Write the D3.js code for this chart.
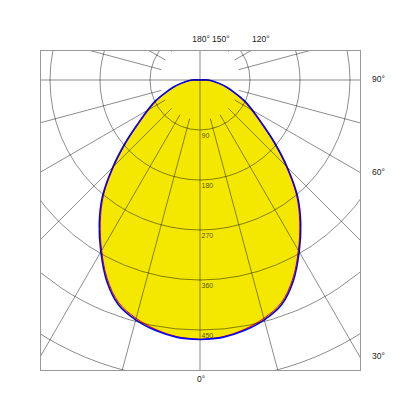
<!DOCTYPE html>
<html>
<head>
<meta charset="utf-8">
<script src="https://cdn.jsdelivr.net/npm/d3@7"></script>
<style>
  body { margin: 0; background: #fff; }
  text { font-family: "Liberation Sans", Arial, sans-serif; }
</style>
</head>
<body>
<svg id="chart" width="400" height="400"></svg>
<script>
// gamma angles (deg from nadir) and luminous intensity (cd) per C-plane
const gammaAngles = d3.range(0, 181, 5);
const planeC90 = [467, 465, 458, 447, 430, 398, 357, 316, 273, 222, 175, 136, 109, 88, 66, 50, 35, 24, 14,
  0, 0, 0, 0, 0, 0, 0, 0, 0, 0, 0, 0, 0, 0, 0, 0, 0, 0];
const planeC0 = [467, 464, 456, 444, 427, 395, 354, 313, 270, 219, 172, 133, 106, 85, 64, 48, 34, 23, 14,
  0, 0, 0, 0, 0, 0, 0, 0, 0, 0, 0, 0, 0, 0, 0, 0, 0, 0];

const ringValues = [90, 180, 270, 360, 450, 540];
const ringLabels = [90, 180, 270, 360, 450];
const spokeAngles = d3.range(0, 360, 15);
const angleLabels = [0, 30, 60, 90, 120, 150, 180];

const frame = {x0: 40, y0: 50, x1: 360, y1: 370};
const cx = 200, cy = 80;

const r = d3.scaleLinear().domain([0, 90]).range([0, 50]);

const svg = d3.select('#chart');

svg.append('defs').append('clipPath').attr('id', 'frameClip')
  .append('rect')
  .attr('x', frame.x0).attr('y', frame.y0)
  .attr('width', frame.x1 - frame.x0).attr('height', frame.y1 - frame.y0);

const main = svg.append('g').attr('transform', `translate(${cx},${cy})`);

// lobe: right half from gamma 0..180, left half back 180..0
const lobePoints = (values) => {
  const right = gammaAngles.map((g, i) => [Math.PI - g * Math.PI / 180, r(values[i])]);
  const left = gammaAngles.map((g, i) => [Math.PI + g * Math.PI / 180, r(values[i])]).reverse();
  return right.concat(left);
};
const radial = d3.lineRadial().curve(d3.curveCatmullRomClosed.alpha(0.5));

main.append('path')
  .attr('d', radial(lobePoints(planeC90)))
  .attr('fill', '#f4e700')
  .attr('stroke', 'none');

// grid
const grid = svg.append('g')
  .attr('clip-path', 'url(#frameClip)')
  .append('g')
  .attr('transform', `translate(${cx},${cy})`)
  .attr('stroke', '#000')
  .attr('stroke-opacity', 0.45)
  .attr('fill', 'none')
  .attr('stroke-width', 1);

grid.selectAll('circle')
  .data(ringValues).enter().append('circle')
  .attr('r', d => r(d));

grid.selectAll('line')
  .data(spokeAngles).enter().append('line')
  .attr('x1', d => (d % 90 === 0 ? 0 : 40) * Math.sin(d * Math.PI / 180))
  .attr('y1', d => (d % 90 === 0 ? 0 : 40) * Math.cos(d * Math.PI / 180))
  .attr('x2', d => 600 * Math.sin(d * Math.PI / 180))
  .attr('y2', d => 600 * Math.cos(d * Math.PI / 180));

// curves
main.append('path')
  .attr('d', radial(lobePoints(planeC0)))
  .attr('fill', 'none')
  .attr('stroke', '#ff0000')
  .attr('stroke-width', 1);

main.append('path')
  .attr('d', radial(lobePoints(planeC90)))
  .attr('fill', 'none')
  .attr('stroke', '#0000ff')
  .attr('stroke-width', 1.6);

// frame
svg.append('rect')
  .attr('x', frame.x0 + 0.5).attr('y', frame.y0 + 0.5)
  .attr('width', frame.x1 - frame.x0).attr('height', frame.y1 - frame.y0)
  .attr('fill', 'none')
  .attr('stroke', '#999');

// intensity labels along nadir line
main.selectAll('text.ring')
  .data(ringLabels).enter().append('text')
  .attr('class', 'ring')
  .attr('x', 1.5)
  .attr('y', d => r(d) + 7.5)
  .attr('font-size', '7px')
  .attr('fill', '#000')
  .attr('fill-opacity', 0.7)
  .text(d => d);

// angle labels where spokes leave the frame
angleLabels.forEach(a => {
  const s = Math.sin(a * Math.PI / 180), c = Math.cos(a * Math.PI / 180);
  const ts = [];
  if (s > 1e-6) ts.push({t: (frame.x1 - cx) / s, side: 'right'});
  if (c > 1e-6) ts.push({t: (frame.y1 - cy) / c, side: 'bottom'});
  if (c < -1e-6) ts.push({t: (frame.y0 - cy) / c, side: 'top'});
  const hit = ts.sort((p, q) => p.t - q.t)[0];
  const ex = cx + hit.t * s, ey = cy + hit.t * c;
  const label = svg.append('text')
    .attr('font-size', '8.5px')
    .attr('fill', '#222')
    .attr('dominant-baseline', 'middle')
    .text(a + '°');
  if (hit.side === 'right') {
    label.attr('x', frame.x1 + 12).attr('y', ey);
  } else if (hit.side === 'top') {
    label.attr('x', ex + (ex - cx) * 0.15 + 1).attr('y', frame.y0 - 10).attr('text-anchor', 'middle');
  } else {
    label.attr('x', ex + 1).attr('y', frame.y1 + 10).attr('text-anchor', 'middle');
  }
});
</script>
</body>
</html>
